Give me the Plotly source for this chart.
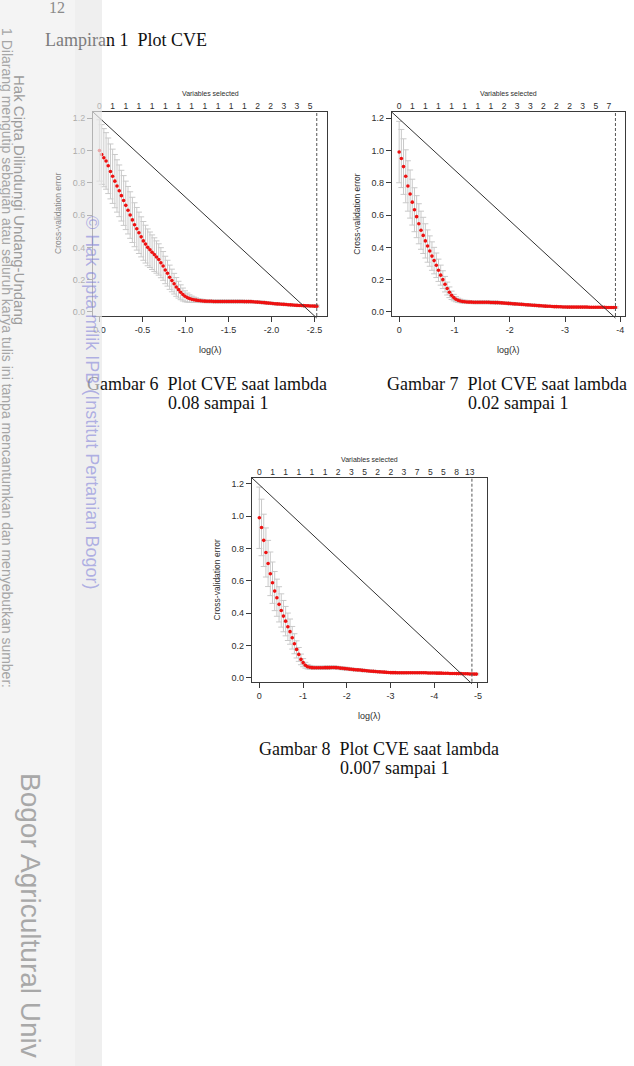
import plotly.graph_objects as go

W, H = 634, 1066

# ---------------- data ----------------
log_lambda_1 = [0.000, -0.026, -0.051, -0.077, -0.102, -0.128, -0.153, -0.179, -0.204, -0.230,
                -0.255, -0.281, -0.306, -0.332, -0.357, -0.383, -0.408, -0.434, -0.459, -0.485,
                -0.510, -0.536, -0.561, -0.587, -0.612, -0.638, -0.663, -0.689, -0.714, -0.740,
                -0.765, -0.791, -0.816, -0.842, -0.868, -0.893, -0.919, -0.944, -0.970, -0.995,
                -1.021, -1.046, -1.072, -1.097, -1.123, -1.148, -1.174, -1.199, -1.225, -1.250,
                -1.276, -1.301, -1.327, -1.352, -1.378, -1.403, -1.429, -1.454, -1.480, -1.505,
                -1.531, -1.556, -1.582, -1.607, -1.633, -1.658, -1.684, -1.710, -1.735, -1.761,
                -1.786, -1.812, -1.837, -1.863, -1.888, -1.914, -1.939, -1.965, -1.990, -2.016,
                -2.041, -2.067, -2.092, -2.118, -2.143, -2.169, -2.194, -2.220, -2.245, -2.271,
                -2.296, -2.322, -2.347, -2.373, -2.398, -2.424, -2.449, -2.475, -2.500, -2.526]
cve_1 = [1.000, 0.975, 0.955, 0.935, 0.905, 0.870, 0.840, 0.810, 0.780, 0.750,
         0.720, 0.690, 0.660, 0.630, 0.600, 0.570, 0.540, 0.515, 0.490, 0.465,
         0.440, 0.420, 0.400, 0.385, 0.370, 0.355, 0.340, 0.325, 0.305, 0.285,
         0.260, 0.240, 0.215, 0.195, 0.175, 0.155, 0.138, 0.122, 0.108, 0.097,
         0.089, 0.083, 0.079, 0.076, 0.073, 0.071, 0.069, 0.068, 0.067, 0.066,
         0.066, 0.066, 0.065, 0.065, 0.065, 0.065, 0.065, 0.065, 0.065, 0.065,
         0.065, 0.065, 0.065, 0.065, 0.065, 0.065, 0.064, 0.064, 0.064, 0.064,
         0.063, 0.062, 0.061, 0.060, 0.059, 0.058, 0.056, 0.055, 0.054, 0.052,
         0.051, 0.050, 0.049, 0.048, 0.047, 0.046, 0.045, 0.044, 0.043, 0.042,
         0.041, 0.040, 0.040, 0.039, 0.038, 0.038, 0.037, 0.037, 0.036, 0.036]
se_1 = [0.190, 0.185, 0.180, 0.175, 0.172, 0.170, 0.168, 0.165, 0.162, 0.160,
        0.157, 0.154, 0.150, 0.147, 0.144, 0.140, 0.136, 0.132, 0.128, 0.124,
        0.120, 0.117, 0.114, 0.110, 0.107, 0.104, 0.100, 0.097, 0.093, 0.089,
        0.085, 0.080, 0.075, 0.070, 0.064, 0.058, 0.052, 0.046, 0.040, 0.034,
        0.028, 0.023, 0.019, 0.016, 0.014, 0.012, 0.011, 0.010, 0.009, 0.009,
        0.009, 0.009, 0.009, 0.009, 0.009, 0.009, 0.009, 0.009, 0.009, 0.009,
        0.009, 0.009, 0.009, 0.009, 0.009, 0.009, 0.008, 0.008, 0.008, 0.008,
        0.008, 0.008, 0.008, 0.008, 0.008, 0.008, 0.007, 0.007, 0.007, 0.007,
        0.007, 0.007, 0.007, 0.007, 0.007, 0.007, 0.006, 0.006, 0.006, 0.006,
        0.006, 0.006, 0.006, 0.006, 0.006, 0.006, 0.006, 0.006, 0.006, 0.006]
nvars_1 = [0, 1, 1, 1, 1, 1, 1, 1, 1, 1, 1, 1, 2, 2, 3, 3, 5]

log_lambda_2 = [0.000, -0.040, -0.079, -0.119, -0.158, -0.198, -0.237, -0.277, -0.316, -0.356,
                -0.395, -0.435, -0.474, -0.514, -0.553, -0.593, -0.632, -0.672, -0.711, -0.751,
                -0.790, -0.830, -0.869, -0.909, -0.948, -0.988, -1.027, -1.067, -1.106, -1.146,
                -1.185, -1.225, -1.264, -1.304, -1.344, -1.383, -1.423, -1.462, -1.502, -1.541,
                -1.581, -1.620, -1.660, -1.699, -1.739, -1.778, -1.818, -1.857, -1.897, -1.936,
                -1.976, -2.015, -2.055, -2.094, -2.134, -2.173, -2.213, -2.252, -2.292, -2.331,
                -2.371, -2.410, -2.450, -2.489, -2.529, -2.568, -2.608, -2.647, -2.687, -2.727,
                -2.766, -2.806, -2.845, -2.885, -2.924, -2.964, -3.003, -3.043, -3.082, -3.122,
                -3.161, -3.201, -3.240, -3.280, -3.319, -3.359, -3.398, -3.438, -3.477, -3.517,
                -3.556, -3.596, -3.635, -3.675, -3.714, -3.754, -3.793, -3.833, -3.872, -3.912]
cve_2 = [0.990, 0.950, 0.900, 0.840, 0.780, 0.730, 0.680, 0.633, 0.590, 0.546,
         0.506, 0.474, 0.440, 0.408, 0.377, 0.346, 0.318, 0.289, 0.258, 0.228,
         0.200, 0.172, 0.145, 0.122, 0.103, 0.089, 0.079, 0.072, 0.068, 0.065,
         0.063, 0.062, 0.061, 0.061, 0.060, 0.060, 0.060, 0.060, 0.060, 0.060,
         0.060, 0.060, 0.059, 0.059, 0.058, 0.058, 0.057, 0.056, 0.055, 0.054,
         0.053, 0.052, 0.051, 0.050, 0.049, 0.048, 0.047, 0.046, 0.045, 0.044,
         0.043, 0.042, 0.041, 0.040, 0.039, 0.038, 0.037, 0.036, 0.035, 0.035,
         0.034, 0.033, 0.033, 0.032, 0.032, 0.031, 0.031, 0.030, 0.030, 0.030,
         0.030, 0.030, 0.030, 0.030, 0.030, 0.030, 0.030, 0.029, 0.029, 0.029,
         0.029, 0.029, 0.029, 0.029, 0.029, 0.028, 0.028, 0.028, 0.028, 0.028]
se_2 = [0.190, 0.180, 0.172, 0.164, 0.156, 0.149, 0.142, 0.136, 0.130, 0.124,
        0.118, 0.112, 0.106, 0.100, 0.094, 0.088, 0.082, 0.076, 0.069, 0.062,
        0.055, 0.048, 0.040, 0.033, 0.026, 0.020, 0.016, 0.013, 0.011, 0.010,
        0.010, 0.010, 0.009, 0.009, 0.009, 0.009, 0.009, 0.009, 0.009, 0.009,
        0.009, 0.009, 0.009, 0.009, 0.009, 0.009, 0.008, 0.008, 0.008, 0.008,
        0.008, 0.008, 0.008, 0.008, 0.008, 0.008, 0.007, 0.007, 0.007, 0.007,
        0.007, 0.007, 0.007, 0.007, 0.007, 0.007, 0.006, 0.006, 0.006, 0.006,
        0.006, 0.006, 0.006, 0.006, 0.006, 0.006, 0.006, 0.006, 0.006, 0.006,
        0.005, 0.005, 0.005, 0.005, 0.005, 0.005, 0.005, 0.005, 0.005, 0.005,
        0.005, 0.005, 0.005, 0.005, 0.005, 0.005, 0.005, 0.005, 0.005, 0.005]
nvars_2 = [0, 1, 1, 1, 1, 1, 1, 1, 2, 3, 3, 2, 2, 2, 3, 5, 7]

log_lambda_3 = [0.000, -0.050, -0.100, -0.150, -0.200, -0.251, -0.301, -0.351, -0.401, -0.451,
                -0.501, -0.551, -0.601, -0.652, -0.702, -0.752, -0.802, -0.852, -0.902, -0.952,
                -1.002, -1.053, -1.103, -1.153, -1.203, -1.253, -1.303, -1.353, -1.403, -1.454,
                -1.504, -1.554, -1.604, -1.654, -1.704, -1.754, -1.804, -1.854, -1.905, -1.955,
                -2.005, -2.055, -2.105, -2.155, -2.205, -2.255, -2.306, -2.356, -2.406, -2.456,
                -2.506, -2.556, -2.606, -2.656, -2.707, -2.757, -2.807, -2.857, -2.907, -2.957,
                -3.007, -3.057, -3.108, -3.158, -3.208, -3.258, -3.308, -3.358, -3.408, -3.458,
                -3.508, -3.559, -3.609, -3.659, -3.709, -3.759, -3.809, -3.859, -3.909, -3.960,
                -4.010, -4.060, -4.110, -4.160, -4.210, -4.260, -4.310, -4.361, -4.411, -4.461,
                -4.511, -4.561, -4.611, -4.661, -4.711, -4.762, -4.812, -4.862, -4.912, -4.962]
cve_3 = [0.990, 0.930, 0.850, 0.775, 0.707, 0.643, 0.588, 0.536, 0.495, 0.454,
         0.416, 0.381, 0.350, 0.315, 0.285, 0.247, 0.210, 0.175, 0.144, 0.113,
         0.093, 0.077, 0.068, 0.064, 0.062, 0.061, 0.061, 0.061, 0.061, 0.061,
         0.062, 0.062, 0.062, 0.063, 0.063, 0.062, 0.061, 0.059, 0.058, 0.056,
         0.055, 0.053, 0.052, 0.050, 0.049, 0.048, 0.047, 0.045, 0.044, 0.043,
         0.041, 0.040, 0.039, 0.038, 0.037, 0.036, 0.035, 0.034, 0.033, 0.032,
         0.031, 0.031, 0.031, 0.030, 0.030, 0.030, 0.030, 0.030, 0.030, 0.030,
         0.030, 0.030, 0.030, 0.030, 0.030, 0.030, 0.030, 0.029, 0.029, 0.029,
         0.029, 0.028, 0.028, 0.028, 0.027, 0.027, 0.027, 0.026, 0.026, 0.026,
         0.025, 0.025, 0.025, 0.024, 0.024, 0.024, 0.023, 0.023, 0.022, 0.022]
se_3 = [0.190, 0.175, 0.162, 0.152, 0.143, 0.135, 0.128, 0.121, 0.115, 0.109,
        0.103, 0.097, 0.091, 0.085, 0.078, 0.070, 0.062, 0.053, 0.043, 0.033,
        0.025, 0.018, 0.014, 0.012, 0.011, 0.010, 0.010, 0.010, 0.010, 0.010,
        0.010, 0.010, 0.010, 0.010, 0.010, 0.009, 0.009, 0.009, 0.009, 0.009,
        0.009, 0.009, 0.008, 0.008, 0.008, 0.008, 0.008, 0.008, 0.007, 0.007,
        0.007, 0.007, 0.007, 0.007, 0.007, 0.006, 0.006, 0.006, 0.006, 0.006,
        0.006, 0.006, 0.006, 0.006, 0.006, 0.006, 0.006, 0.006, 0.005, 0.005,
        0.005, 0.005, 0.005, 0.005, 0.005, 0.005, 0.005, 0.005, 0.005, 0.005,
        0.005, 0.005, 0.005, 0.005, 0.005, 0.005, 0.005, 0.005, 0.005, 0.005,
        0.005, 0.005, 0.005, 0.005, 0.005, 0.005, 0.005, 0.005, 0.005, 0.005]
nvars_3 = [0, 1, 1, 1, 1, 1, 2, 3, 5, 2, 2, 3, 7, 5, 5, 8, 13]

min_index = [99, 99, 97]

xtick_vals_1 = [0, -0.5, -1.0, -1.5, -2.0, -2.5]
xtick_text_1 = ["0.0", "-0.5", "-1.0", "-1.5", "-2.0", "-2.5"]
xtick_vals_2 = [0, -1, -2, -3, -4]
xtick_text_2 = ["0", "-1", "-2", "-3", "-4"]
xtick_vals_3 = [0, -1, -2, -3, -4, -5]
xtick_text_3 = ["0", "-1", "-2", "-3", "-4", "-5"]
ytick_vals = [0.0, 0.2, 0.4, 0.6, 0.8, 1.0, 1.2]
ytick_text = ["0.0", "0.2", "0.4", "0.6", "0.8", "1.0", "1.2"]

captions = [("Gambar 6", "0.08 sampai 1"), ("Gambar 7", "0.02 sampai 1"), ("Gambar 8", "0.007 sampai 1")]

# ---------------- layout helpers ----------------
def px_x(v):
    return v / W


def px_y(v):
    return 1 - v / H


SANS = "Liberation Sans, Arial, sans-serif"
SERIF = "Liberation Serif, Times New Roman, serif"
INK = "#2e2e2e"

panels = [
    dict(x=log_lambda_1, y=cve_1, se=se_1, nv=nvars_1, xt=xtick_vals_1, xtl=xtick_text_1,
         xr=[0.075, -2.645], box=(93, 112, 327, 316), mi=min_index[0],
         cap=captions[0], cap_xy=(85, 384)),
    dict(x=log_lambda_2, y=cve_2, se=se_2, nv=nvars_2, xt=xtick_vals_2, xtl=xtick_text_2,
         xr=[0.135, -4.085], box=(391.7, 112, 625, 316), mi=min_index[1],
         cap=captions[1], cap_xy=(385, 384)),
    dict(x=log_lambda_3, y=cve_3, se=se_3, nv=nvars_3, xt=xtick_vals_3, xtl=xtick_text_3,
         xr=[0.175, -5.2], box=(251.7, 477.7, 486.7, 681.7), mi=min_index[2],
         cap=captions[2], cap_xy=(257, 749)),
]
YR = [-0.025, 1.238]

fig = go.Figure()
layout = dict(width=W, height=H, margin=dict(l=0, r=0, t=0, b=0),
              paper_bgcolor="white", plot_bgcolor="white", showlegend=False)
shapes = []
annotations = []


def note(text, px, py, size, color, family=SANS, xanchor="center", angle=0):
    annotations.append(dict(text=text, x=px_x(px), y=px_y(py), xref="paper", yref="paper",
                            showarrow=False, xanchor=xanchor, yanchor="middle",
                            textangle=angle, font=dict(family=family, size=size, color=color)))


for k, p in enumerate(panels, start=1):
    xn = "x" if k == 1 else f"x{k}"
    yn = "y" if k == 1 else f"y{k}"
    xtop = f"x{k + 3}"
    L, T, R, B = p["box"]

    fig.add_trace(go.Scatter(
        x=p["x"], y=p["y"], mode="markers", xaxis=xn, yaxis=yn,
        marker=dict(color="#ee1111", size=3.6, line=dict(width=0)),
        error_y=dict(type="data", array=p["se"], visible=True, color="#c9c9c9",
                     thickness=1, width=3),
        hoverinfo="skip"))
    top_pos = p["x"][::6]
    fig.add_trace(go.Scatter(
        x=top_pos, y=[None] * len(top_pos), mode="markers", xaxis=xtop, yaxis=yn,
        marker=dict(opacity=0), hoverinfo="skip"))

    common = dict(showgrid=False, zeroline=False, showline=True, mirror=True,
                  linecolor="#3a3a3a", linewidth=1, ticks="outside", ticklen=5,
                  tickwidth=1, tickcolor="#3a3a3a",
                  tickfont=dict(family=SANS, size=9, color=INK))
    layout["xaxis" if k == 1 else f"xaxis{k}"] = dict(
        domain=[px_x(L), px_x(R)], range=p["xr"], anchor=yn,
        tickvals=p["xt"], ticktext=p["xtl"], **common)
    layout["yaxis" if k == 1 else f"yaxis{k}"] = dict(
        domain=[px_y(B), px_y(T)], range=YR, anchor=xn,
        tickvals=ytick_vals, ticktext=ytick_text, **common)
    layout[f"xaxis{k + 3}"] = dict(
        overlaying=xn, anchor=yn, side="top", range=p["xr"],
        tickvals=top_pos, ticktext=[str(v) for v in p["nv"]],
        ticks="", showgrid=False, zeroline=False, showline=False,
        tickfont=dict(family=SANS, size=8.5, color=INK))

    xmin = p["x"][p["mi"]]
    shapes.append(dict(type="line", xref=xn, yref=f"{yn} domain", x0=xmin, x1=xmin,
                       y0=0, y1=1, line=dict(color="#555555", width=1, dash="3px,2px")))
    shapes.append(dict(type="line", xref=xn, yref=f"{yn} domain", x0=p["xr"][0], x1=xmin,
                       y0=1, y1=-0.01, line=dict(color="#333333", width=1)))

    cx = (L + R) / 2
    note("Variables selected", cx, T - 18.5, 7, INK)
    note("log(\u03bb)", cx, B + 34, 9, INK)
    note("Cross-validation error", L - 35, (T + B) / 2, 8.5,
         "#8a8a8a" if k == 1 else INK, angle=-90)
    gx, gy = p["cap_xy"]
    head = p["cap"][0]
    head_txt = ("<span style='color:#9a9a9a'>G</span>" + head[1:]) if k == 1 else head
    note(head_txt + "\u00a0 Plot CVE saat lambda", gx, gy, 18, "#111111",
         family=SERIF, xanchor="left")
    note(p["cap"][1], gx + 80.5, gy + 19, 18, "#111111", family=SERIF, xanchor="left")

# page heading and page number
note("<span style='color:#7c7c7c'>Lampira</span>n 1\u00a0 Plot CVE", 43, 40, 18, "#111111",
     family=SERIF, xanchor="left")
note("12", 47, 8, 16, "#8a8a8a", family=SERIF, xanchor="left")

# scanned-page watermark stripe and texts
shapes.append(dict(type="rect", xref="paper", yref="paper", x0=0, x1=px_x(102), y0=0, y1=1,
                   fillcolor="rgba(236,236,236,0.6)", line=dict(width=0), layer="above"))
shapes.append(dict(type="rect", xref="paper", yref="paper", x0=px_x(75), x1=px_x(102), y0=0, y1=1,
                   fillcolor="rgba(225,225,225,0.25)", line=dict(width=0), layer="above"))
note("1 Dilarang mengutip sebagian atau seluruh karya tulis ini tanpa mencantumkan dan menyebutkan sumber:",
     7, 358, 14, "#a6a6a6", angle=90)
note("Hak Cipta Dilindungi Undang-Undang", 19, 200, 15, "#9c9c9c", angle=90)
note("\u00a9 Hak cipta milik IPB (Institut Pertanian Bogor)", 92, 402, 18,
     "rgba(120,120,215,0.55)", angle=90)
note("Bogor Agricultural Univ", 31, 915, 28, "#a8a8a8", angle=90)

layout["shapes"] = shapes
layout["annotations"] = annotations
fig.update_layout(**layout)
fig.write_html("out.html")
